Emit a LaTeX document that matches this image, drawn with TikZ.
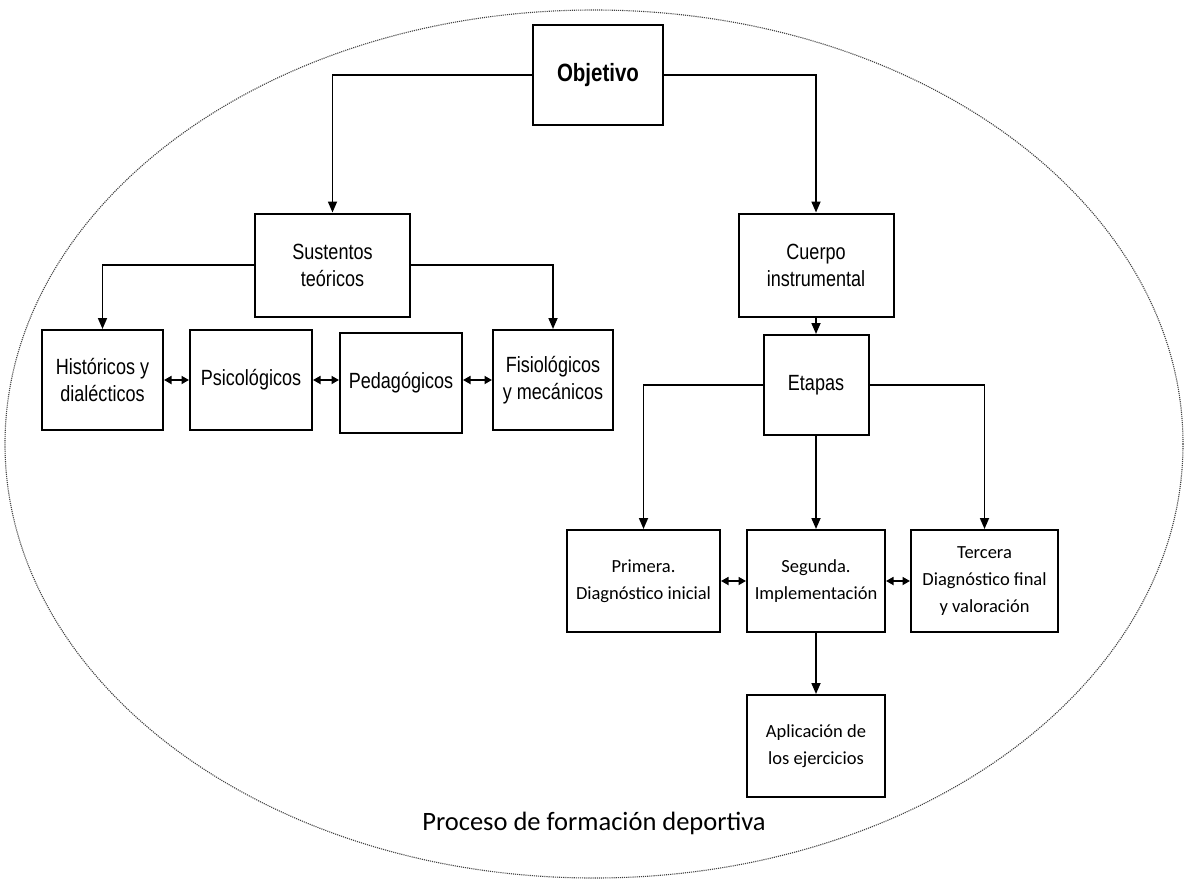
\documentclass[tikz,border=0pt]{standalone}
\usepackage{fontspec}
\setmainfont{Liberation Sans}
\newfontfamily\arialn[FakeStretch=0.82]{Liberation Sans}
\newfontfamily\calib{Carlito}
\usetikzlibrary{arrows.meta}
\begin{document}
\begin{tikzpicture}[x=1pt,y=-1pt,
  box/.style={draw, line width=2pt, align=center, inner sep=2pt, font=\arialn\fontsize{22}{27}\selectfont},
  cbox/.style={box, font=\calib\fontsize{18.5}{27}\selectfont},
  arr/.style={line width=1.7pt, -{Triangle[length=11pt,width=9pt]}},
  dbl/.style={line width=1.7pt, {Triangle[length=7.5pt,width=8pt]}-{Triangle[length=7.5pt,width=8pt]}}]
\useasboundingbox (0,0) rectangle (1186,883);
\draw[black!75, densely dotted, line width=1.1pt] (594,444) ellipse [x radius=589, y radius=434];

\node[box, minimum width=130pt, minimum height=100pt, font=\arialn\bfseries\fontsize{25}{27}\selectfont] (obj) at (598,75) {Objetivo};
\node[box, minimum width=155pt, minimum height=103pt] (sus) at (332.5,265) {Sustentos\\teóricos};
\node[box, minimum width=155pt, minimum height=103pt] (cue) at (816,265) {Cuerpo\\instrumental};
\node[box, minimum width=121pt, minimum height=100pt] (his) at (102.5,380) {Históricos y\\dialécticos};
\node[box, minimum width=122pt, minimum height=100pt] (psi) at (251,380) {Psicológicos};
\node[box, minimum width=122pt, minimum height=100pt] (ped) at (401,383) {Pedagógicos};
\node[box, minimum width=120pt, minimum height=100pt] (fis) at (553,380) {Fisiológicos\\y mecánicos};
\node[box, minimum width=105pt, minimum height=100pt] (eta) at (816,385) {Etapas};
\node[cbox, minimum width=153pt, minimum height=102pt] (pri) at (643.5,581) {Primera.\\Diagnóstico inicial};
\node[cbox, minimum width=138pt, minimum height=102pt] (seg) at (816,581) {Segunda.\\Implementación};
\node[cbox, minimum width=147pt, minimum height=102pt] (ter) at (984.5,581) {Tercera\\Diagnóstico final\\y valoración};
\node[cbox, minimum width=138pt, minimum height=102pt] (apl) at (816,746) {Aplicación de\\los ejercicios};
\node[font=\calib\fontsize{26.5}{32}\selectfont] (lbl) at (594,823) {Proceso de formación deportiva};

\draw[arr] (obj.west) -| (sus.north);
\draw[arr] (obj.east) -| (cue.north);
\draw[arr] (sus.west) -| (his.north);
\draw[arr] (sus.east) -| (fis.north);
\draw[arr] (cue.south) -- (eta.north);
\draw[arr] (eta.west) -| (pri.north);
\draw[arr] (eta.east) -| (ter.north);
\draw[arr] (eta.south) -- (seg.north);
\draw[arr] (seg.south) -- (apl.north);

\draw[dbl] (his.east) -- (psi.west);
\draw[dbl] (psi.east) -- (psi.east -| ped.west);
\draw[dbl] (ped.east |- fis.west) -- (fis.west);
\draw[dbl] (pri.east) -- (seg.west);
\draw[dbl] (seg.east) -- (ter.west);
\end{tikzpicture}
\end{document}
